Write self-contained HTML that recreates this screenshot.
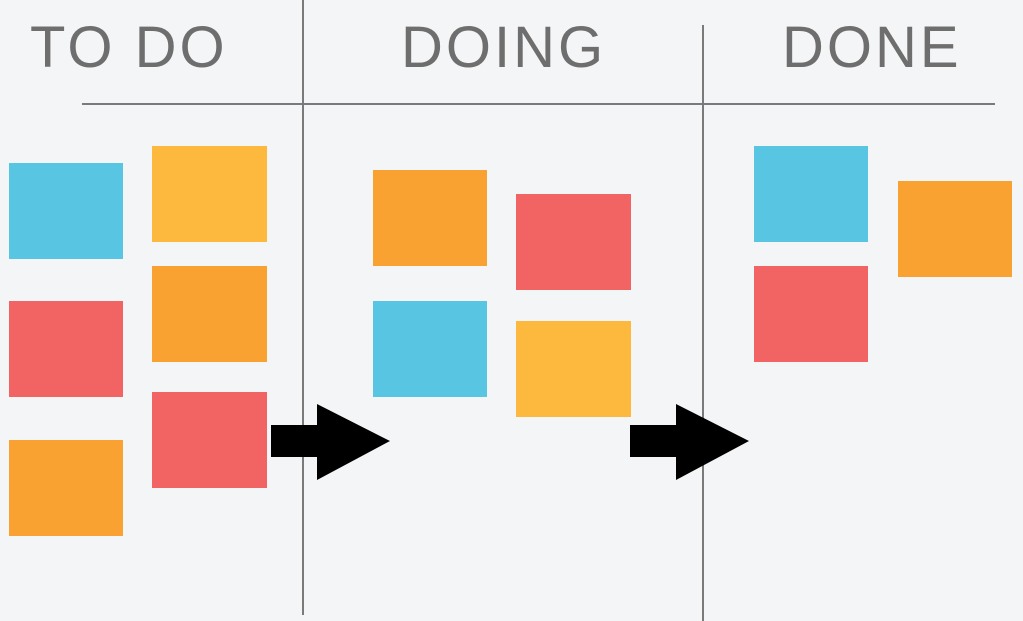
<!DOCTYPE html>
<html><head><meta charset="utf-8"><style>
body{margin:0;width:1023px;height:621px;background:#f4f5f7;position:relative;overflow:hidden;font-family:"Liberation Sans",sans-serif}
.s{position:absolute;width:114px;height:96px}
.b{background:#58c5e2}.r{background:#f26464}.o{background:#f9a231}.y{background:#fdb93d}
.t{position:absolute;top:12px;font-size:58px;color:#6e6e6e;letter-spacing:3px;line-height:72px}
.l{position:absolute;background:#7a7a7a}
</style></head><body>
<div class="l" style="left:302px;top:0;width:2px;height:615px"></div>
<div class="l" style="left:702px;top:25px;width:2px;height:596px"></div>
<div class="l" style="left:82px;top:103px;width:913px;height:2px"></div>
<div class="t" style="left:30px">TO DO</div>
<div class="t" style="left:401px">DOING</div>
<div class="t" style="left:782px">DONE</div>
<div class="s b" style="left:9px;top:163px"></div>
<div class="s r" style="left:9px;top:301px"></div>
<div class="s o" style="left:9px;top:440px"></div>
<div class="s y" style="left:152px;top:146px;width:115px"></div>
<div class="s o" style="left:152px;top:266px;width:115px"></div>
<div class="s r" style="left:152px;top:392px;width:115px"></div>
<div class="s o" style="left:373px;top:170px"></div>
<div class="s b" style="left:373px;top:301px"></div>
<div class="s r" style="left:516px;top:194px;width:115px"></div>
<div class="s y" style="left:516px;top:321px;width:115px"></div>
<div class="s b" style="left:754px;top:146px"></div>
<div class="s r" style="left:754px;top:266px"></div>
<div class="s o" style="left:898px;top:181px"></div>
<svg width="1023" height="621" style="position:absolute;left:0;top:0">
<polygon points="271,425 317,425 317,404 390,441 317,480 317,457 271,457" fill="#000"/>
<polygon points="630,425 676,425 676,404 749,441 676,480 676,457 630,457" fill="#000"/>
</svg>
</body></html>
